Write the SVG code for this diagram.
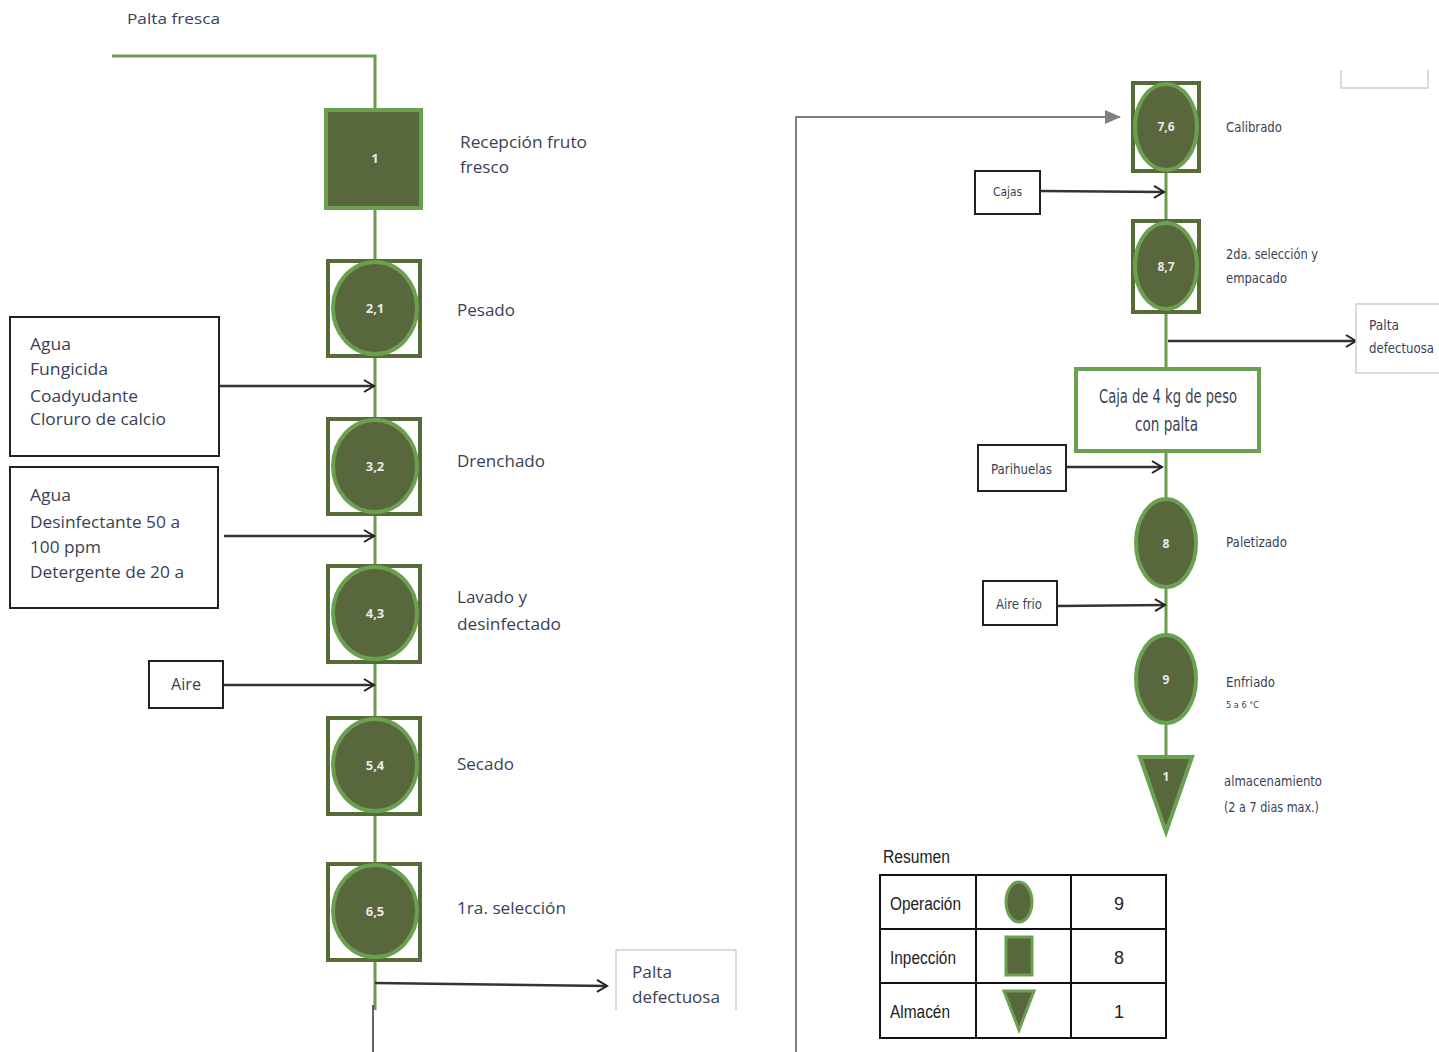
<svg xmlns="http://www.w3.org/2000/svg" width="1439" height="1052" viewBox="0 0 1439 1052">
<style>
.flow{stroke:#6a9b50;stroke-width:3;fill:none}
.insp{fill:#fff;stroke:#566b35;stroke-width:4}
.op{fill:#58673c;stroke:#6aa150;stroke-width:4}
.num{font-family:"Open Sans","Liberation Sans",sans-serif;font-size:13px;font-weight:bold;fill:#e8e8e8;text-anchor:middle}
.lbl{font-family:"Open Sans","Liberation Sans",sans-serif;font-size:16px;fill:#3a3f55}
.lblr{font-family:"DejaVu Sans Condensed","Liberation Sans",sans-serif;font-size:14px;fill:#3a3f55}
.box{fill:#fff;stroke:#222;stroke-width:2}
.lbox{fill:#fff;stroke:#d0d0d0;stroke-width:1.5}
.arr{stroke:#333;stroke-width:2.5;fill:none}
.tbl{font-family:"Liberation Sans",sans-serif;font-size:18px;fill:#222}
</style>
<defs>
<marker id="open" markerWidth="14" markerHeight="14" refX="12" refY="7" orient="auto" markerUnits="userSpaceOnUse">
<path d="M2,1 L12,7 L2,13" fill="none" stroke="#222" stroke-width="2"/>
</marker>
<marker id="filled" markerWidth="16" markerHeight="14" refX="15" refY="7" orient="auto" markerUnits="userSpaceOnUse">
<path d="M0,0 L16,7 L0,14 Z" fill="#808080"/>
</marker>
</defs>

<g id="connectors">
<polyline class="flow" points="112,56 375,56 375,110"/>
<line class="flow" x1="375" y1="208" x2="375" y2="260"/>
<line class="flow" x1="375" y1="357" x2="375" y2="418"/>
<line class="flow" x1="375" y1="515" x2="375" y2="565"/>
<line class="flow" x1="375" y1="663" x2="375" y2="717"/>
<line class="flow" x1="375" y1="815" x2="375" y2="863"/>
<line class="flow" x1="375" y1="961" x2="375" y2="1010"/>
<line x1="373" y1="1005" x2="373" y2="1052" stroke="#333" stroke-width="1.5"/>
<line class="arr" x1="220" y1="386" x2="374" y2="386" marker-end="url(#open)"/>
<line class="arr" x1="224" y1="536" x2="374" y2="536" marker-end="url(#open)"/>
<line class="arr" x1="223" y1="685" x2="374" y2="685" marker-end="url(#open)"/>
<line class="arr" x1="375" y1="983" x2="607" y2="986" marker-end="url(#open)"/>

<polyline points="796,1052 796,117 1120,117" fill="none" stroke="#808080" stroke-width="2" marker-end="url(#filled)"/>
<line class="flow" x1="1166" y1="172" x2="1166" y2="220"/>
<line class="flow" x1="1166" y1="313" x2="1166" y2="368"/>
<line class="flow" x1="1166" y1="452" x2="1166" y2="499"/>
<line class="flow" x1="1166" y1="587" x2="1166" y2="635"/>
<line class="flow" x1="1166" y1="723" x2="1166" y2="757"/>
<line class="arr" x1="1040" y1="191" x2="1164" y2="192" marker-end="url(#open)"/>
<line class="arr" x1="1168" y1="341" x2="1356" y2="341" marker-end="url(#open)"/>
<line class="arr" x1="1066" y1="467" x2="1162" y2="467" marker-end="url(#open)"/>
<line class="arr" x1="1057" y1="606" x2="1165" y2="605" marker-end="url(#open)"/>
</g>

<text class="lbl" x="127" y="24" style="font-size:15px" textLength="93" lengthAdjust="spacingAndGlyphs">Palta fresca</text>

<g id="n1">
<rect x="326" y="110" width="95" height="98" class="op"/>
<text class="num" x="375" y="163">1</text>
<text class="lbl" x="460" y="148" textLength="127" lengthAdjust="spacingAndGlyphs">Recepción fruto</text>
<text class="lbl" x="460" y="173" textLength="49" lengthAdjust="spacingAndGlyphs">fresco</text>
</g>
<g id="n21">
<rect x="328" y="261" width="92" height="95" class="insp"/>
<ellipse cx="375" cy="308" rx="42" ry="46" class="op"/>
<text class="num" x="375" y="313">2,1</text>
<text class="lbl" x="457" y="316" textLength="58" lengthAdjust="spacingAndGlyphs">Pesado</text>
</g>
<g id="n32">
<rect x="328" y="419" width="92" height="95" class="insp"/>
<ellipse cx="375" cy="466" rx="42" ry="46" class="op"/>
<text class="num" x="375" y="471">3,2</text>
<text class="lbl" x="457" y="467" textLength="88" lengthAdjust="spacingAndGlyphs">Drenchado</text>
</g>
<g id="n43">
<rect x="328" y="566" width="92" height="96" class="insp"/>
<ellipse cx="375" cy="613" rx="42" ry="46" class="op"/>
<text class="num" x="375" y="618">4,3</text>
<text class="lbl" x="457" y="603" textLength="70" lengthAdjust="spacingAndGlyphs">Lavado y</text>
<text class="lbl" x="457" y="630" textLength="104" lengthAdjust="spacingAndGlyphs">desinfectado</text>
</g>
<g id="n54">
<rect x="328" y="718" width="92" height="96" class="insp"/>
<ellipse cx="375" cy="765" rx="42" ry="46" class="op"/>
<text class="num" x="375" y="770">5,4</text>
<text class="lbl" x="457" y="770" textLength="57" lengthAdjust="spacingAndGlyphs">Secado</text>
</g>
<g id="n65">
<rect x="328" y="864" width="92" height="96" class="insp"/>
<ellipse cx="375" cy="911" rx="42" ry="46" class="op"/>
<text class="num" x="375" y="916">6,5</text>
<text class="lbl" x="457" y="914" textLength="109" lengthAdjust="spacingAndGlyphs">1ra. selección</text>
</g>

<g id="in1">
<rect x="10" y="317" width="209" height="139" class="box"/>
<text class="lbl" x="30" y="350" textLength="41" lengthAdjust="spacingAndGlyphs">Agua</text>
<text class="lbl" x="30" y="375" textLength="78" lengthAdjust="spacingAndGlyphs">Fungicida</text>
<text class="lbl" x="30" y="402" textLength="108" lengthAdjust="spacingAndGlyphs">Coadyudante</text>
<text class="lbl" x="30" y="425" textLength="136" lengthAdjust="spacingAndGlyphs">Cloruro de calcio</text>
</g>
<g id="in2">
<rect x="10" y="467" width="208" height="141" class="box"/>
<text class="lbl" x="30" y="501" textLength="41" lengthAdjust="spacingAndGlyphs">Agua</text>
<text class="lbl" x="30" y="528" textLength="150" lengthAdjust="spacingAndGlyphs">Desinfectante 50 a</text>
<text class="lbl" x="30" y="553" textLength="71" lengthAdjust="spacingAndGlyphs">100 ppm</text>
<text class="lbl" x="30" y="578" textLength="154" lengthAdjust="spacingAndGlyphs">Detergente de 20 a</text>
</g>
<g id="in3">
<rect x="149" y="661" width="74" height="47" class="box"/>
<text class="lbl" x="171" y="690" textLength="30" lengthAdjust="spacingAndGlyphs">Aire</text>
</g>
<g id="out1">
<path d="M616,1010 L616,950 L736,950 L736,1010" class="lbox"/>
<text class="lbl" x="632" y="978" textLength="40" lengthAdjust="spacingAndGlyphs">Palta</text>
<text class="lbl" x="632" y="1003" textLength="88" lengthAdjust="spacingAndGlyphs">defectuosa</text>
</g>

<path d="M1341,70 L1341,88 L1428,88 L1428,70" class="lbox"/>

<g id="n76">
<rect x="1133" y="83" width="66" height="88" class="insp"/>
<ellipse cx="1166" cy="127" rx="31" ry="43" class="op"/>
<text class="num" x="1166" y="131" style="font-size:12px">7,6</text>
<text class="lblr" x="1226" y="132" textLength="56" lengthAdjust="spacingAndGlyphs">Calibrado</text>
</g>
<g id="cajas">
<rect x="975" y="171" width="65" height="43" class="box"/>
<text class="lblr" x="993" y="196" style="font-size:13px" textLength="29" lengthAdjust="spacingAndGlyphs">Cajas</text>
</g>
<g id="n87">
<rect x="1133" y="221" width="66" height="91" class="insp"/>
<ellipse cx="1166" cy="266" rx="31" ry="43" class="op"/>
<text class="num" x="1166" y="271" style="font-size:12px">8,7</text>
<text class="lblr" x="1226" y="259" textLength="92" lengthAdjust="spacingAndGlyphs">2da. selección y</text>
<text class="lblr" x="1226" y="283" textLength="61" lengthAdjust="spacingAndGlyphs">empacado</text>
</g>
<g id="out2">
<path d="M1439,304 L1356,304 L1356,373 L1439,373" class="lbox"/>
<text class="lblr" x="1369" y="330" textLength="30" lengthAdjust="spacingAndGlyphs">Palta</text>
<text class="lblr" x="1369" y="353" textLength="65" lengthAdjust="spacingAndGlyphs">defectuosa</text>
</g>
<g id="caja">
<rect x="1076" y="369" width="183" height="82" fill="#fff" stroke="#6aa150" stroke-width="4"/>
<text class="lblr" x="1099" y="403" style="font-size:19px" textLength="138" lengthAdjust="spacingAndGlyphs">Caja de 4 kg de peso</text>
<text class="lblr" x="1135" y="431" style="font-size:19px" textLength="63" lengthAdjust="spacingAndGlyphs">con palta</text>
</g>
<g id="parihuelas">
<rect x="978" y="445" width="88" height="46" class="box"/>
<text class="lblr" x="991" y="474" textLength="61" lengthAdjust="spacingAndGlyphs">Parihuelas</text>
</g>
<g id="n8">
<ellipse cx="1166" cy="543" rx="30" ry="44" class="op"/>
<text class="num" x="1166" y="548" style="font-size:12px">8</text>
<text class="lblr" x="1226" y="547" textLength="61" lengthAdjust="spacingAndGlyphs">Paletizado</text>
</g>
<g id="airefrio">
<rect x="983" y="581" width="74" height="44" class="box"/>
<text class="lblr" x="996" y="609" textLength="46" lengthAdjust="spacingAndGlyphs">Aire  frio</text>
</g>
<g id="n9">
<ellipse cx="1166" cy="679" rx="30" ry="44" class="op"/>
<text class="num" x="1166" y="684" style="font-size:12px">9</text>
<text class="lblr" x="1226" y="687" textLength="49" lengthAdjust="spacingAndGlyphs">Enfriado</text>
<text class="lblr" x="1226" y="708" style="font-size:9px" textLength="33" lengthAdjust="spacingAndGlyphs">5 a 6 °C</text>
</g>
<g id="alm">
<polygon points="1140,757 1192,757 1166,832" class="op"/>
<text class="num" x="1166" y="781" style="font-size:12px">1</text>
<text class="lblr" x="1224" y="786" textLength="98" lengthAdjust="spacingAndGlyphs">almacenamiento</text>
<text class="lblr" x="1224" y="812" textLength="95" lengthAdjust="spacingAndGlyphs">(2 a 7 dias max.)</text>
</g>

<g id="resumen">
<text class="tbl" x="883" y="863" textLength="67" lengthAdjust="spacingAndGlyphs">Resumen</text>
<rect x="880" y="875" width="286" height="163" fill="#fff" stroke="#111" stroke-width="2"/>
<line x1="976" y1="875" x2="976" y2="1038" stroke="#111" stroke-width="2"/>
<line x1="1071" y1="875" x2="1071" y2="1038" stroke="#111" stroke-width="2"/>
<line x1="880" y1="929" x2="1166" y2="929" stroke="#111" stroke-width="2"/>
<line x1="880" y1="983" x2="1166" y2="983" stroke="#111" stroke-width="2"/>
<text class="tbl" x="890" y="910" textLength="71" lengthAdjust="spacingAndGlyphs">Operación</text>
<text class="tbl" x="890" y="964" textLength="66" lengthAdjust="spacingAndGlyphs">Inpección</text>
<text class="tbl" x="890" y="1018" textLength="60" lengthAdjust="spacingAndGlyphs">Almacén</text>
<ellipse cx="1019" cy="902" rx="13" ry="20" fill="#58673c" stroke="#6aa150" stroke-width="3"/>
<rect x="1006" y="937" width="26" height="38" fill="#58673c" stroke="#6aa150" stroke-width="3"/>
<polygon points="1004,991 1034,991 1019,1030" fill="#58673c" stroke="#6aa150" stroke-width="3"/>
<text class="tbl" x="1119" y="910" text-anchor="middle">9</text>
<text class="tbl" x="1119" y="964" text-anchor="middle">8</text>
<text class="tbl" x="1119" y="1018" text-anchor="middle">1</text>
</g>
</svg>
